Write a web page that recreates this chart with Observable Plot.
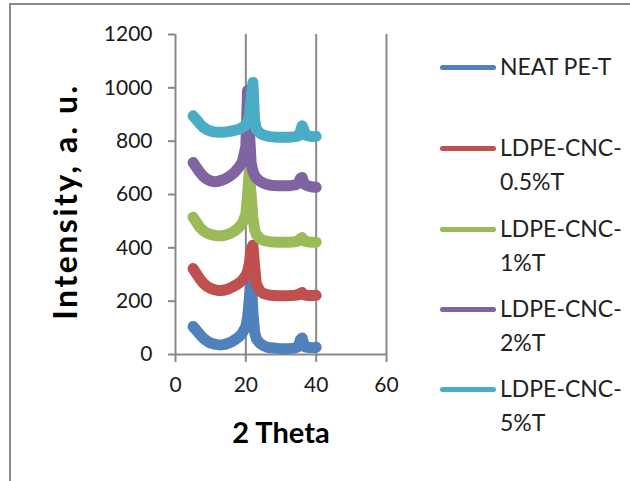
<!DOCTYPE html>
<html>
<head>
<meta charset="utf-8">
<script src="https://cdn.jsdelivr.net/npm/d3@7"></script>
<script src="https://cdn.jsdelivr.net/npm/@observablehq/plot@0.6"></script>
<style>
  body { margin: 0; background: #fff; }
  #wrap { position: relative; width: 630px; height: 481px; overflow: hidden; background: #fff; font-family: Lato, "Open Sans", sans-serif; }
  #border { position: absolute; left: 9px; top: 3px; right: -20px; bottom: -20px; border-left: 2px solid #8a8a8a; border-top: 2px solid #8a8a8a; }
  #chart { position: absolute; left: 0; top: 0; }
  .lg-sample { position: absolute; left: 440px; width: 56px; height: 5px; border-radius: 3px; }
  .lg-text { position: absolute; left: 500px; font-size: 23px; line-height: 33.5px; color: #222; white-space: pre; }
</style>
</head>
<body>
<div id="wrap"><div id="border"></div><div id="chart"></div></div>
<script>
const theta = [5,6,7,8,9,10,11,12,13,14,15,16,17,18,19,20,20.5,21,21.5,22,22.5,23,24,25,26,27,28,29,30,31,32,33,34,35,35.5,36,36.5,37,38,39,40];

const seriesNames = ["NEAT PE-T", "LDPE-CNC-0.5%T", "LDPE-CNC-1%T", "LDPE-CNC-2%T", "LDPE-CNC-5%T"];
const seriesColors = ["#4F81BD", "#C0504D", "#9BBB59", "#8064A2", "#4BACC6"];

const neat = [105,90,74,60,50,43,39,37,36,38,42,48,56,66,80,105,140,210,295,160,85,58,42,33,28,25,24,23,22,22,22,23,24,30,55,62,40,28,26,25,27];
const cnc05 = [322,302,282,266,255,248,243,240,240,242,246,252,259,267,278,296,312,340,395,410,330,265,238,229,225,222,221,220,220,220,220,221,222,224,230,232,226,222,221,221,222];
const cnc1 = [515,495,476,463,455,450,447,445,445,447,451,457,465,476,492,525,600,690,600,515,468,450,435,428,425,423,422,421,421,421,421,422,423,426,434,438,430,424,422,421,421];
const cnc2 = [720,700,682,667,657,651,648,649,653,658,665,674,686,702,722,780,990,840,720,688,672,662,650,643,638,635,634,633,633,633,633,634,636,642,660,664,645,636,631,628,627];
const cnc5 = [895,880,864,851,843,838,835,833,833,834,836,838,841,845,851,860,872,895,960,1020,880,845,830,823,819,817,816,815,815,815,815,816,817,820,835,858,842,824,819,817,818];

const xTicks = [0, 20, 40, 60];
const yTicks = [0, 200, 400, 600, 800, 1000, 1200];
const xGrid = [20, 40, 60];
const xTitle = "2 Theta";
const yTitle = "Intensity, a. u.";

const allSeries = [neat, cnc05, cnc1, cnc2, cnc5];
const table = [];
allSeries.forEach((vals, i) => {
  vals.forEach((v, j) => table.push({series: seriesNames[i], theta: theta[j], value: v}));
});

const gray = "#898989";
const chart = Plot.plot({
  width: 630,
  height: 481,
  marginLeft: 175,
  marginRight: 244,
  marginTop: 34,
  marginBottom: 127,
  style: {fontFamily: "Lato, 'Open Sans', sans-serif", fontSize: "21px", background: "transparent", color: "#1a1a1a", overflow: "visible"},
  x: {domain: [0, 60]},
  y: {domain: [0, 1200]},
  color: {domain: seriesNames, range: seriesColors},
  marks: [
    Plot.ruleX(xGrid, {y1: 0, y2: 1200, stroke: gray, strokeWidth: 2}),
    Plot.ruleX([0], {y1: 0, y2: 1200, stroke: gray, strokeWidth: 2}),
    Plot.ruleY([0], {x1: 0, x2: 60, stroke: gray, strokeWidth: 2}),
    Plot.axisX({ticks: xTicks, tickFormat: d => String(d), tickSize: 8, tickPadding: 15, stroke: gray, strokeWidth: 2, fill: "#1a1a1a", label: null}),
    Plot.axisY({ticks: yTicks, tickFormat: d => String(d), tickSize: 7, tickPadding: 16, stroke: gray, strokeWidth: 2, fill: "#1a1a1a", label: null}),
    Plot.line(table, {x: "theta", y: "value", z: "series", stroke: "series", strokeWidth: 11, strokeLinejoin: "round", strokeLinecap: "round"}),
    Plot.text([yTitle], {frameAnchor: "left", dx: -109, dy: 7, rotate: -90, textAnchor: "middle", lineAnchor: "middle", fontSize: 32, fontWeight: "bold", fill: "#000"}),
    Plot.text([xTitle], {frameAnchor: "bottom", dy: 79, textAnchor: "middle", lineAnchor: "middle", fontSize: 29, fontWeight: "bold", fill: "#000"})
  ]
});
document.getElementById("chart").appendChild(chart);

d3.select(chart).selectAll("text").filter(function() { return this.textContent === yTitle; })
  .style("letter-spacing", "2.5px");

// legend
const wrap = document.getElementById("wrap");
const rowY = [67, 148, 229, 309, 389];
seriesNames.forEach((name, i) => {
  const s = document.createElement("div");
  s.className = "lg-sample";
  s.style.top = (rowY[i] - 2.5) + "px";
  s.style.background = seriesColors[i];
  wrap.appendChild(s);
  const t = document.createElement("div");
  t.className = "lg-text";
  t.style.top = (rowY[i] - 17) + "px";
  t.textContent = name.replace("CNC-", "CNC-\n");
  wrap.appendChild(t);
});
</script>
</body>
</html>
